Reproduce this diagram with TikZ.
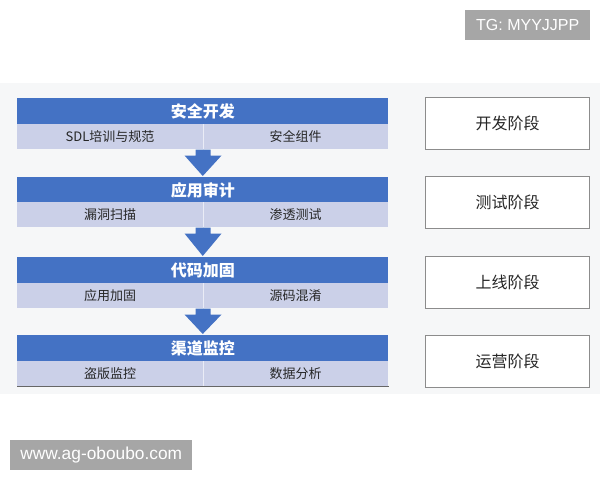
\documentclass[tikz,border=0pt]{standalone}
\usepackage{fontspec}
\usetikzlibrary{calc}
\setmainfont{Noto Sans CJK SC}
\newfontfamily\latinsans{Liberation Sans}
\definecolor{hdrblue}{HTML}{4472C4}
\definecolor{subfill}{HTML}{CBD0E8}
\definecolor{panelbg}{HTML}{F6F7F8}
\definecolor{boxline}{HTML}{8C8C8C}
\definecolor{txtdark}{HTML}{262626}
\definecolor{wmgray}{HTML}{A6A6A6}
\begin{document}
\begin{tikzpicture}[x=0.75pt,y=-0.75pt,
  header/.style={rectangle, fill=hdrblue, inner sep=0pt, anchor=north west,
    minimum width=278.25pt, minimum height=19.5pt, text=white,
    font=\fontsize{12pt}{12pt}\selectfont\bfseries},
  subhalf/.style={rectangle, fill=subfill, inner sep=0pt, anchor=north west,
    minimum width=139.125pt, minimum height=18.75pt, text=txtdark,
    font=\fontsize{9.75pt}{9.75pt}\selectfont},
  stagebox/.style={rectangle, draw=boxline, line width=0.7pt, fill=white,
    inner sep=0pt, minimum width=123pt, minimum height=39pt, text=txtdark,
    font=\fontsize{12pt}{12pt}\selectfont},
  flowarrow/.style={fill=hdrblue},
  wmbox/.style={rectangle, fill=wmgray, inner sep=0pt, text=white, anchor=north west,
    minimum height=22.5pt}
]
\useasboundingbox (0,0) rectangle (600,480);
\fill[panelbg] (0,83) rectangle (600,394);

% rows
\node[header] (h1) at (17,98) {安全开发};
\node[subhalf] (s1a) at (17,124) {SDL培训与规范};
\node[subhalf] (s1b) at (202.5,124) {安全组件};

\node[header] (h2) at (17,177) {应用审计};
\node[subhalf] (s2a) at (17,202) {漏洞扫描};
\node[subhalf] (s2b) at (202.5,202) {渗透测试};

\node[header] (h3) at (17,257) {代码加固};
\node[subhalf] (s3a) at (17,283) {应用加固};
\node[subhalf] (s3b) at (202.5,283) {源码混淆};

\node[header] (h4) at (17,335) {渠道监控};
\node[subhalf] (s4a) at (17,361) {盗版监控};
\node[subhalf] (s4b) at (202.5,361) {数据分析};

% faint dividers and bottom line
\foreach \r in {1,2,3,4}{
  \draw[white!60!subfill, line width=0.6pt] (s\r a.north east) -- (s\r a.south east);
}
\draw[black!60, line width=0.9pt] (s4a.south west) -- (s4b.south east);

% arrows
\foreach \a/\b in {1/2,2/3,3/4}{
  \fill[flowarrow]
    ($(s\a a.south east)+(-7.5,0)$) --
    ($(s\a a.south east)+(-7.5,6)$) --
    ($(s\a a.south east)+(-18.5,6)$) --
    ($(h\b.north)+(0,-1)$) --
    ($(s\a a.south east)+(18.5,6)$) --
    ($(s\a a.south east)+(7.5,6)$) --
    ($(s\a a.south east)+(7.5,0)$) -- cycle;
}

% stage boxes
\node[stagebox] (p1) at (507.5,123) {开发阶段};
\node[stagebox] (p2) at (507.5,202) {测试阶段};
\node[stagebox] (p3) at (507.5,282) {上线阶段};
\node[stagebox] (p4) at (507.5,361) {运营阶段};

% watermarks
\node[wmbox, minimum width=93.75pt, font=\latinsans\fontsize{12pt}{12pt}\selectfont] (tg) at (465,10) {TG: MYYJJPP};
\node[wmbox, minimum width=136.5pt, font=\latinsans\fontsize{13pt}{13pt}\selectfont] (www) at (10,440) {www.ag-oboubo.com};
\end{tikzpicture}
\end{document}
